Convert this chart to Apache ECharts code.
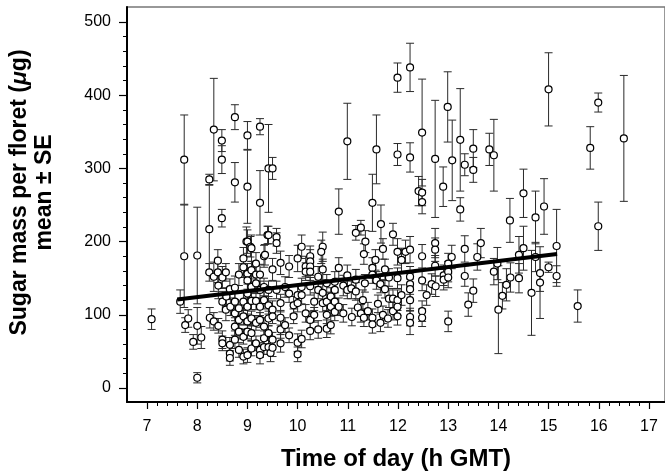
<!DOCTYPE html>
<html>
<head>
<meta charset="utf-8">
<script src="https://cdn.jsdelivr.net/npm/echarts@6/dist/echarts.min.js"></script>
<style>
  html, body { margin: 0; padding: 0; background: #fff; }
  #chart { width: 665px; height: 473px; }
</style>
</head>
<body>
<div id="chart"></div>
<script>
// time of day (h GMT), sugar mass per floret (ug), standard error
const timeH = [
  7.09, 7.66, 7.74, 7.74, 7.76, 7.82, 7.92, 8.0, 8.0, 8.0,
  8.08, 8.24, 8.24, 8.24, 8.25, 8.33, 8.33, 8.33, 8.41, 8.41,
  8.42, 8.42, 8.49, 8.49, 8.49, 8.5, 8.5, 8.5, 8.5, 8.57,
  8.57, 8.58, 8.65, 8.65, 8.65, 8.65, 8.66, 8.75, 8.75, 8.75,
  8.75, 8.75, 8.75, 8.75, 8.83, 8.83, 8.83, 8.83, 8.83, 8.92,
  8.92, 8.92, 8.92, 8.92, 8.92, 8.98, 9.0, 9.0, 9.0, 9.0,
  9.0, 9.0, 9.0, 9.0, 9.0, 9.0, 9.06, 9.08, 9.08, 9.08,
  9.08, 9.08, 9.08, 9.08, 9.17, 9.17, 9.17, 9.17, 9.17, 9.17,
  9.25, 9.25, 9.25, 9.25, 9.25, 9.25, 9.25, 9.25, 9.33, 9.33,
  9.33, 9.33, 9.33, 9.33, 9.35, 9.4, 9.42, 9.5, 9.42, 9.42,
  9.42, 9.42, 9.42, 9.42, 9.46, 9.5, 9.5, 9.5, 9.5, 9.5,
  9.58, 9.58, 9.58, 9.66, 9.66, 9.66, 9.66, 9.66, 9.75, 9.75,
  9.83, 9.83, 9.83, 9.92, 9.92, 10.0, 10.0, 10.0, 10.0, 10.0,
  10.08, 10.08, 10.08, 10.08, 10.16, 10.16, 10.16, 10.25, 10.25, 10.25,
  10.25, 10.25, 10.25, 10.25, 10.33, 10.33, 10.41, 10.41, 10.41, 10.5,
  10.47, 10.5, 10.5, 10.5, 10.58, 10.58, 10.58, 10.58, 10.66, 10.66,
  10.66, 10.74, 10.74, 10.74, 10.74, 10.82, 10.82, 10.82, 10.91, 10.91,
  10.99, 10.99, 10.99, 11.07, 11.08, 11.16, 11.16, 11.16, 11.2, 11.26,
  11.26, 11.3, 11.32, 11.32, 11.34, 11.35, 11.4, 11.49, 11.49, 11.49,
  11.49, 11.49, 11.55, 11.57, 11.57, 11.6, 11.65, 11.65, 11.66, 11.7,
  11.7, 11.74, 11.74, 11.8, 11.82, 11.82, 11.9, 11.9, 11.9, 11.99,
  11.99, 11.99, 11.99, 11.99, 11.99, 11.99, 12.07, 12.07, 12.15, 12.24,
  12.24, 12.24, 12.24, 12.24, 12.24, 12.24, 12.24, 12.24, 12.41, 12.48,
  12.48, 12.48, 12.48, 12.48, 12.48, 12.48, 12.57, 12.67, 12.74, 12.74,
  12.74, 12.74, 12.75, 12.9, 12.91, 12.91, 12.99, 13.0, 13.0, 13.0,
  13.0, 13.07, 13.08, 13.24, 13.24, 13.33, 13.33, 13.33, 13.4, 13.5,
  13.5, 13.5, 13.58, 13.65, 13.82, 13.91, 13.91, 13.98, 14.0, 14.08,
  14.16, 14.23, 14.24, 14.41, 14.41, 14.5, 14.5, 14.66, 14.74, 14.74,
  14.83, 14.83, 14.91, 15.0, 15.0, 15.16, 15.16, 15.58, 15.83, 15.99,
  15.99, 16.5
]
const sugar = [
  94, 118, 312, 180, 86, 95, 63, 181, 85, 14,
  69, 285, 217, 158, 96, 353, 91, 152, 174, 158,
  85, 140, 338, 312, 232, 151, 118, 66, 61, 158,
  107, 125, 135, 59, 47, 41, 111, 370, 281, 137,
  118, 102, 84, 66, 155, 109, 93, 77, 52, 177,
  165, 118, 98, 70, 43, 200, 345, 275, 200, 156,
  147, 129, 111, 91, 77, 45, 193, 191, 161, 138,
  119, 95, 75, 54, 170, 155, 143, 119, 89, 61,
  357, 253, 155, 134, 111, 93, 52, 45, 180, 138,
  120, 84, 68, 56, 182, 209, 300, 300, 209, 134,
  113, 95, 75, 56, 48, 162, 107, 98, 66, 55,
  206, 198, 134, 171, 116, 96, 80, 61, 138, 86,
  166, 129, 72, 113, 98, 177, 127, 116, 62, 46,
  193, 138, 127, 67, 166, 159, 102, 180, 173, 166,
  159, 139, 93, 78, 118, 100, 152, 134, 80, 193,
  186, 162, 130, 116, 143, 118, 100, 81, 125, 111,
  86, 145, 134, 118, 104, 241, 164, 111, 140, 102,
  337, 154, 134, 136, 97, 212, 148, 132, 110, 219,
  102, 120, 183, 96, 143, 200, 105, 253, 164, 155,
  96, 87, 175, 326, 147, 115, 142, 89, 224, 190,
  100, 162, 135, 95, 151, 122, 210, 122, 105, 424,
  319, 186, 150, 120, 111, 98, 175, 127, 186, 438,
  315, 189, 152, 142, 135, 120, 97, 89, 269, 349,
  267, 254, 180, 147, 105, 96, 127, 142, 313, 198,
  189, 167, 139, 275, 154, 148, 384, 170, 159, 151,
  91, 179, 311, 339, 244, 305, 190, 153, 114, 327,
  298, 133, 179, 198, 326, 318, 159, 170, 107, 126,
  141, 229, 151, 182, 150, 266, 191, 130, 233, 179,
  157, 144, 248, 408, 165, 194, 153, 112, 328, 390,
  221, 341
]
const stdErr = [
  14, 16, 61, 70, 10, 12, 10, 66, 25, 7,
  15, 7, 60, 12, 14, 70, 12, 20, 15, 14,
  10, 18, 15, 19, 12, 15, 14, 12, 10, 12,
  15, 12, 14, 10, 10, 10, 12, 17, 27, 16,
  12, 10, 12, 12, 15, 10, 12, 10, 10, 15,
  14, 12, 12, 10, 10, 20, 19, 50, 16, 14,
  12, 15, 12, 10, 10, 10, 14, 18, 12, 14,
  12, 10, 10, 10, 15, 12, 14, 12, 10, 10,
  11, 44, 14, 12, 12, 10, 10, 12, 15, 12,
  12, 12, 10, 10, 14, 12, 60, 15, 12, 12,
  12, 10, 10, 10, 12, 15, 12, 10, 10, 12,
  12, 14, 12, 16, 12, 10, 12, 12, 14, 10,
  15, 12, 10, 12, 10, 18, 14, 12, 12, 10,
  16, 12, 12, 12, 14, 12, 12, 14, 16, 12,
  12, 12, 12, 12, 12, 10, 14, 12, 12, 20,
  16, 14, 12, 12, 12, 12, 12, 12, 12, 12,
  12, 14, 12, 12, 12, 31, 14, 12, 14, 12,
  52, 14, 12, 14, 12, 10, 14, 12, 12, 10,
  12, 14, 14, 12, 12, 15, 12, 39, 14, 12,
  12, 12, 14, 47, 12, 12, 12, 12, 26, 14,
  12, 14, 12, 12, 12, 12, 15, 14, 12, 20,
  15, 18, 14, 14, 12, 12, 16, 14, 16, 33,
  20, 18, 14, 14, 14, 14, 12, 16, 20, 73,
  18, 16, 16, 14, 14, 12, 14, 14, 80, 20,
  16, 14, 14, 27, 14, 14, 48, 14, 14, 14,
  14, 16, 55, 70, 16, 15, 18, 14, 16, 26,
  17, 16, 18, 20, 22, 49, 18, 22, 60, 18,
  22, 30, 20, 25, 20, 33, 30, 58, 36, 20,
  25, 49, 38, 50, 7, 50, 14, 22, 29, 13,
  33, 86
]

// fitted regression line end points
const fitX = [7.6, 15.17]
const fitY = [121, 183]

const xTicks = [7, 8, 9, 10, 11, 12, 13, 14, 15, 16, 17]
const yTicks = [0, 100, 200, 300, 400, 500]

const font = 'Liberation Sans, Arial, Helvetica, sans-serif'

const chart = echarts.init(document.getElementById('chart'))

const errData = timeH.map((t, i) => [t, sugar[i] - stdErr[i], sugar[i] + stdErr[i]])
const pointData = timeH.map((t, i) => [t, sugar[i]])

const hiddenAxis = (gridIndex) => ({
  type: 'value',
  gridIndex,
  show: false,
  min: 0,
  max: 1,
  axisLine: { show: false, onZero: false },
  axisTick: { show: false },
  axisLabel: { show: false },
  splitLine: { show: false },
})

chart.setOption({
  animation: false,
  grid: [
    // plot frame
    { left: 127, right: 0, top: 7, bottom: 71, outerBoundsMode: 'none', show: true, borderColor: '#777', borderWidth: 1.5 },
    // x tick scale, 7..17
    { left: 147, right: 16, top: 7, bottom: 71, outerBoundsMode: 'none' },
    // y tick scale, 0..500
    { left: 127, right: 0, top: 22, bottom: 85, outerBoundsMode: 'none' },
  ],
  xAxis: [
    {
      type: 'value',
      gridIndex: 0,
      min: 6.6,
      max: 17.32,
      axisLine: { onZero: false, lineStyle: { color: '#000', width: 2 } },
      axisTick: { show: false },
      axisLabel: { show: false },
      splitLine: { show: false },
      name: 'Time of day (h GMT)',
      nameLocation: 'middle',
      nameGap: 45,
      nameTextStyle: { color: '#000', fontSize: 24, fontWeight: 'bold', fontFamily: font },
    },
    {
      type: 'value',
      gridIndex: 1,
      min: xTicks[0],
      max: xTicks[xTicks.length - 1],
      interval: xTicks[1] - xTicks[0],
      axisLine: { show: false, onZero: false },
      axisTick: { show: true, length: 7, lineStyle: { color: '#000', width: 1.2 } },
      minorTick: { show: true, splitNumber: 5, length: 4, lineStyle: { color: '#000', width: 1 } },
      axisLabel: { color: '#000', fontSize: 16, fontFamily: font, margin: 17 },
      splitLine: { show: false },
    },
    hiddenAxis(2),
  ],
  yAxis: [
    {
      type: 'value',
      gridIndex: 0,
      min: -19.1,
      max: 520.5,
      axisLine: { show: true, onZero: false, lineStyle: { color: '#000', width: 2 } },
      axisTick: { show: false },
      axisLabel: { show: false },
      splitLine: { show: false },
      name: '{b|Sugar mass per floret (}{i|μ}{b|g)}\n{b|mean ± SE}',
      nameLocation: 'middle',
      nameGap: 70,
      nameRotate: 90,
      nameTextStyle: {
        padding: [0, 0, 0, 24],
        rich: {
          b: { fontSize: 23, fontWeight: 'bold', fontFamily: font, color: '#000', lineHeight: 25 },
          i: { fontSize: 23, fontWeight: 'bold', fontStyle: 'italic', fontFamily: font, color: '#000', lineHeight: 25 },
        },
      },
    },
    hiddenAxis(1),
    {
      type: 'value',
      gridIndex: 2,
      min: yTicks[0],
      max: yTicks[yTicks.length - 1],
      interval: yTicks[1] - yTicks[0],
      axisLine: { show: false, onZero: false },
      axisTick: { show: true, length: 8, lineStyle: { color: '#000', width: 1.2 } },
      minorTick: { show: true, splitNumber: 5, length: 4, lineStyle: { color: '#000', width: 1 } },
      axisLabel: { color: '#000', fontSize: 16, fontFamily: font, margin: 16 },
      splitLine: { show: false },
    },
  ],
  series: [
    {
      type: 'custom',
      xAxisIndex: 0,
      yAxisIndex: 0,
      data: errData,
      encode: { x: 0, y: [1, 2] },
      z: 2,
      renderItem: (params, api) => {
        const x = api.value(0)
        const top = api.coord([x, api.value(2)])
        const bot = api.coord([x, api.value(1)])
        const w = 4
        const style = { stroke: '#2a2a2a', lineWidth: 1 }
        return {
          type: 'group',
          children: [
            { type: 'line', shape: { x1: top[0], y1: top[1], x2: bot[0], y2: bot[1] }, style },
            { type: 'line', shape: { x1: top[0] - w, y1: top[1], x2: top[0] + w, y2: top[1] }, style },
            { type: 'line', shape: { x1: bot[0] - w, y1: bot[1], x2: bot[0] + w, y2: bot[1] }, style },
          ],
        }
      },
    },
    {
      type: 'scatter',
      xAxisIndex: 0,
      yAxisIndex: 0,
      data: pointData,
      symbol: 'circle',
      symbolSize: 7,
      z: 3,
      itemStyle: { color: '#fff', borderColor: '#000', borderWidth: 1.2, opacity: 1 },
    },
    {
      type: 'line',
      xAxisIndex: 0,
      yAxisIndex: 0,
      data: fitX.map((x, i) => [x, fitY[i]]),
      showSymbol: false,
      z: 4,
      lineStyle: { color: '#000', width: 4 },
    },
  ],
})
</script>
</body>
</html>
